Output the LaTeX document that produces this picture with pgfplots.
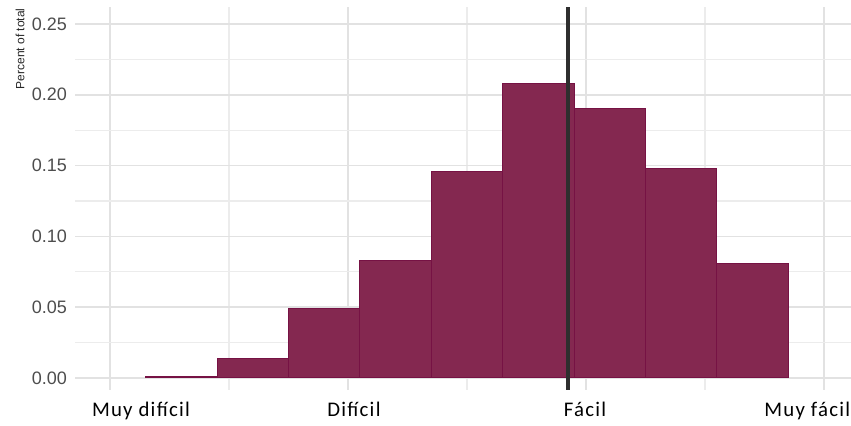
\documentclass[border=0pt]{standalone}
\usepackage{fontspec}
\setmainfont{Liberation Sans}
\newfontfamily\xlabfont[LetterSpace=6]{Carlito}
\usepackage{pgfplots}
\pgfplotsset{compat=1.18}
\definecolor{barfill}{RGB}{132,40,80}
\definecolor{baredge}{RGB}{118,18,68}
\definecolor{gridmaj}{RGB}{226,226,226}
\definecolor{gridmin}{RGB}{236,236,236}
\definecolor{ticklab}{RGB}{77,77,77}
\begin{document}
\begin{tikzpicture}
\begin{axis}[
  at={(0,0)}, anchor=south west,
  scale only axis, width=388pt, height=191.5pt,
  xmin=0.853, xmax=4.113, ymin=-0.0085, ymax=0.262,
  axis line style={draw=none}, tick style={draw=none},
  xtick={1,2,3,4}, xticklabels={},
  minor xtick={1.5,2.5,3.5},
  extra x ticks={1.130,2.025,2.996,3.929},
  extra x tick labels={Muy difícil,Difícil,Fácil,Muy fácil},
  extra x tick style={grid=none, tick style={draw=none},
    ticklabel style={font=\xlabfont\fontsize{10.4}{12}\selectfont, text=black, yshift=-2.5pt}},
  ytick={0,0.05,0.1,0.15,0.2,0.25},
  minor ytick={0.025,0.075,0.125,0.175,0.225},
  yticklabels={0.00,0.05,0.10,0.15,0.20,0.25},
  yticklabel style={font=\fontsize{9}{10}\selectfont, text=ticklab, xshift=-0.5pt},
  grid=both,
  major grid style={gridmaj, line width=0.75pt},
  minor grid style={gridmin, line width=0.6pt},
  ylabel={Percent of total},
  every axis y label/.append style={at={(rel axis cs:-0.0709,0.9974)}, anchor=east,
    font=\fontsize{6}{7}\selectfont, text=black!85, inner sep=0pt},
  clip=false,
]
\addplot[ybar interval, fill=barfill, draw=baredge, line width=0.5pt]
  coordinates {(1.15,0.0008)(1.45,0.014)(1.75,0.049)(2.05,0.083)(2.35,0.146)(2.65,0.208)(2.95,0.190)(3.25,0.148)(3.55,0.081)(3.85,0.081)};
\addplot[draw=black!82, line width=2pt] coordinates {(2.924,-0.0085)(2.924,0.262)};
\end{axis}
\pgfresetboundingbox
\useasboundingbox (-37.5pt,-18pt) rectangle (388pt,195pt);
\end{tikzpicture}
\end{document}
